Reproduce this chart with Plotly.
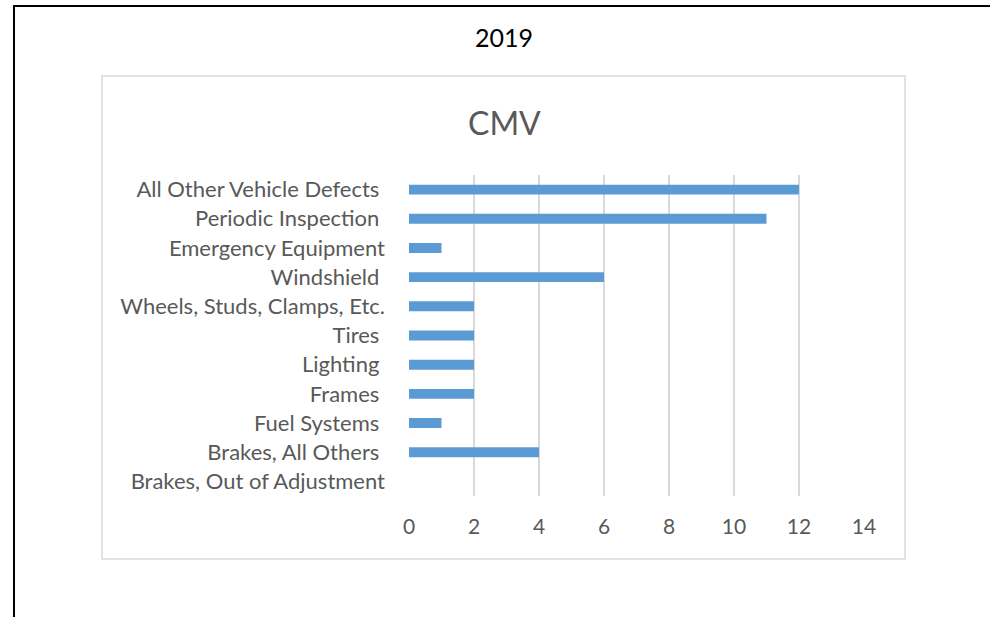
import plotly.graph_objects as go

categories = [
    "All Other Vehicle Defects",
    "Periodic Inspection",
    "Emergency Equipment",
    "Windshield",
    "Wheels, Studs, Clamps, Etc.",
    "Tires",
    "Lighting",
    "Frames",
    "Fuel Systems",
    "Brakes, All Others",
    "Brakes, Out of Adjustment",
]
tick_labels = [
    "All Other Vehicle Defects\u00a0",
    "Periodic Inspection\u00a0",
    "Emergency Equipment",
    "Windshield\u00a0",
    "Wheels, Studs, Clamps, Etc.",
    "Tires\u00a0",
    "Lighting\u00a0",
    "Frames\u00a0",
    "Fuel Systems\u00a0",
    "Brakes, All Others\u00a0",
    "Brakes, Out of Adjustment",
]
values = [12, 11, 1, 6, 2, 2, 2, 2, 1, 4, 0]
x_ticks = [0, 2, 4, 6, 8, 10, 12, 14]

FONT = "Lato"
TXT = "#595959"

fig = go.Figure(
    go.Bar(
        y=categories,
        x=values,
        orientation="h",
        marker=dict(color="#5B9BD5", line=dict(width=0)),
        width=0.34,
    )
)

fig.update_layout(
    width=990,
    height=617,
    paper_bgcolor="white",
    plot_bgcolor="white",
    margin=dict(l=409, r=126, t=175, b=121),
    showlegend=False,
    font=dict(family=FONT, color=TXT, size=22),
    xaxis=dict(
        range=[0, 14],
        tickvals=x_ticks,
        showgrid=True,
        gridcolor="#D9D9D9",
        gridwidth=1.5,
        zeroline=False,
        showline=False,
        ticks="",
        ticklabelstandoff=16,
        tickfont=dict(family=FONT, color=TXT, size=21),
    ),
    yaxis=dict(
        categoryorder="array",
        categoryarray=categories[::-1],
        tickmode="array",
        tickvals=categories,
        ticktext=tick_labels,
        showgrid=False,
        showline=False,
        zeroline=False,
        ticks="",
        ticklabelstandoff=23,
        tickfont=dict(family=FONT, color=TXT, size=22),
    ),
    annotations=[
        dict(text="2019", xref="paper", yref="paper", x=(504 - 409) / 455, y=1 + (175 - 37) / 321,
             showarrow=False, font=dict(family=FONT, size=25, color="black"), xanchor="center", yanchor="middle"),
        dict(text="CMV", xref="paper", yref="paper", x=(504 - 409) / 455, y=1 + (175 - 122) / 321,
             showarrow=False, font=dict(family=FONT, size=32, color=TXT), xanchor="center", yanchor="middle"),
    ],
)

def px_x(p):
    return (p - 409) / 455

def px_y(p):
    return 1 - (p - 175) / 321

shapes = [
    dict(type="line", xref="paper", yref="paper", x0=px_x(14), x1=px_x(992), y0=px_y(6), y1=px_y(6),
         line=dict(color="black", width=2)),
    dict(type="line", xref="paper", yref="paper", x0=px_x(14), x1=px_x(14), y0=px_y(5), y1=px_y(620),
         line=dict(color="black", width=2)),
    dict(type="rect", xref="paper", yref="paper", x0=px_x(102), x1=px_x(905), y0=px_y(76), y1=px_y(559),
         line=dict(color="#D9D9D9", width=1.5), layer="below"),
]
fig.update_layout(shapes=shapes)

fig.write_html(
    "out.html",
    config={"displayModeBar": False},
    post_script="document.body.style.margin='0';document.body.style.overflow='hidden';",
)
